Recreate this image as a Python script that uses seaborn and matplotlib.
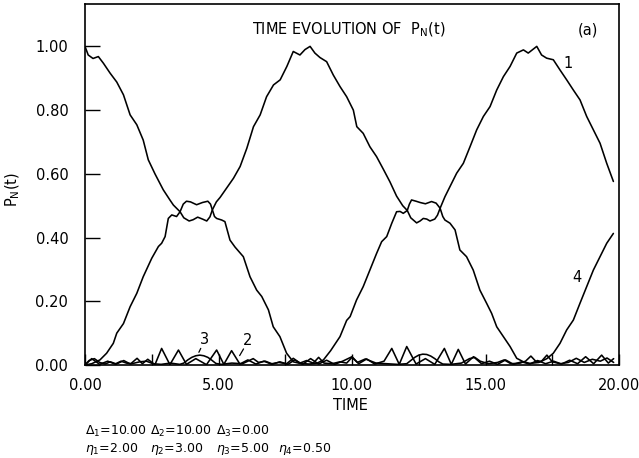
import numpy as np
import pandas as pd
import matplotlib
matplotlib.use("Agg")
import matplotlib.pyplot as plt
import seaborn as sns

# ---- populations P_N(t) of the four levels -------------------------------
t1 = [0.00, 0.12, 0.30, 0.50, 0.69, 0.94, 1.19, 1.44, 1.69, 1.94, 2.18, 2.37,
      2.62, 2.93, 3.18, 3.31, 3.56, 3.70, 3.90, 4.05, 4.22, 4.40, 4.56, 4.68,
      4.77, 4.92, 5.06, 5.31, 5.56, 5.81, 6.06, 6.31, 6.56, 6.80, 7.06, 7.31,
      7.56, 7.80, 8.05, 8.24, 8.43, 8.61, 8.80, 9.05, 9.30, 9.55, 9.80, 10.05,
      10.18, 10.42, 10.67, 10.92, 11.17, 11.42, 11.67, 11.90, 12.07, 12.20,
      12.42, 12.55, 12.67, 12.80, 12.92, 13.10, 13.20, 13.30, 13.48, 13.67,
      13.92, 14.17, 14.42, 14.67, 14.92, 15.17, 15.42, 15.67, 15.92, 16.17,
      16.42, 16.60, 16.92, 17.10, 17.29, 17.54, 17.79, 18.04, 18.29, 18.54,
      18.79, 19.04, 19.29, 19.54, 19.79]
p1 = [1.000, 0.973, 0.962, 0.968, 0.947, 0.916, 0.888, 0.848, 0.785, 0.754,
      0.706, 0.644, 0.600, 0.550, 0.518, 0.502, 0.481, 0.462, 0.452, 0.456,
      0.464, 0.458, 0.452, 0.465, 0.487, 0.512, 0.526, 0.556, 0.586, 0.623,
      0.680, 0.748, 0.785, 0.842, 0.879, 0.895, 0.937, 0.984, 0.973, 0.990,
      1.000, 0.979, 0.965, 0.952, 0.910, 0.874, 0.842, 0.800, 0.748, 0.727,
      0.685, 0.654, 0.615, 0.575, 0.530, 0.500, 0.485, 0.462, 0.446, 0.452,
      0.460, 0.458, 0.452, 0.458, 0.470, 0.492, 0.528, 0.560, 0.602, 0.633,
      0.685, 0.738, 0.780, 0.811, 0.863, 0.905, 0.937, 0.979, 0.989, 0.979,
      1.000, 0.973, 0.963, 0.958, 0.926, 0.895, 0.863, 0.832, 0.780, 0.738,
      0.696, 0.633, 0.576]

t4 = [0.00, 0.25, 0.56, 0.81, 1.06, 1.19, 1.44, 1.69, 1.94, 2.18, 2.50, 2.75,
      2.87, 3.00, 3.12, 3.25, 3.43, 3.56, 3.68, 3.80, 3.95, 4.18, 4.40, 4.60,
      4.70, 4.77, 4.85, 4.93, 5.12, 5.24, 5.43, 5.62, 5.93, 6.18, 6.43, 6.62,
      6.87, 7.05, 7.30, 7.55, 7.80, 8.05, 8.40, 8.70, 8.93, 9.20, 9.55, 9.80,
      9.93, 10.17, 10.42, 10.67, 10.92, 11.11, 11.30, 11.49, 11.67, 11.80,
      11.92, 12.07, 12.15, 12.23, 12.40, 12.55, 12.75, 12.98, 13.15, 13.30,
      13.40, 13.48, 13.67, 13.86, 14.04, 14.29, 14.54, 14.79, 15.04, 15.23,
      15.42, 15.67, 15.92, 16.17, 16.42, 16.67, 17.00, 17.30, 17.54, 17.79,
      18.04, 18.29, 18.54, 18.79, 19.04, 19.29, 19.54, 19.79]
p4 = [0.000, 0.004, 0.016, 0.037, 0.068, 0.100, 0.130, 0.183, 0.225, 0.277,
      0.335, 0.372, 0.382, 0.403, 0.460, 0.471, 0.466, 0.481, 0.505, 0.514,
      0.512, 0.503, 0.510, 0.514, 0.505, 0.487, 0.466, 0.460, 0.455, 0.450,
      0.392, 0.370, 0.340, 0.277, 0.235, 0.215, 0.173, 0.120, 0.089, 0.037,
      0.010, 0.005, 0.003, 0.006, 0.016, 0.045, 0.089, 0.140, 0.152, 0.204,
      0.246, 0.298, 0.350, 0.387, 0.403, 0.445, 0.481, 0.482, 0.476, 0.485,
      0.505, 0.518, 0.514, 0.510, 0.506, 0.513, 0.508, 0.492, 0.466, 0.455,
      0.445, 0.424, 0.361, 0.340, 0.298, 0.235, 0.194, 0.162, 0.120, 0.089,
      0.058, 0.021, 0.010, 0.005, 0.008, 0.020, 0.037, 0.068, 0.110, 0.141,
      0.194, 0.246, 0.298, 0.340, 0.382, 0.413]

t2 = [0.00, 0.25, 0.55, 0.85, 1.15, 1.45, 1.70, 1.95, 2.15, 2.35, 2.62, 2.87,
      3.18, 3.50, 3.80, 4.15, 4.55, 4.93, 5.20, 5.49, 5.80, 6.10, 6.40, 6.70,
      7.00, 7.30, 7.60, 7.85, 8.15, 8.45, 8.75, 9.05, 9.35, 9.65, 10.00, 10.25,
      10.55, 10.85, 11.20, 11.49, 11.77, 12.05, 12.40, 12.75, 13.10, 13.46,
      13.72, 13.98, 14.25, 14.55, 14.85, 15.15, 15.45, 15.75, 16.05, 16.35,
      16.65, 16.95, 17.25, 17.55, 17.85, 18.15, 18.45, 18.75, 19.05, 19.35,
      19.60, 19.80]
p2 = [0.000, 0.020, 0.002, 0.012, 0.002, 0.014, 0.003, 0.021, 0.004, 0.018,
      0.001, 0.052, 0.001, 0.047, 0.002, 0.020, 0.001, 0.047, 0.002, 0.045,
      0.003, 0.016, 0.003, 0.012, 0.002, 0.010, 0.002, 0.016, 0.002, 0.020,
      0.003, 0.015, 0.002, 0.012, 0.026, 0.004, 0.019, 0.003, 0.012, 0.052,
      0.002, 0.058, 0.003, 0.020, 0.002, 0.052, 0.002, 0.049, 0.003, 0.026,
      0.004, 0.012, 0.002, 0.016, 0.002, 0.010, 0.003, 0.014, 0.004, 0.012,
      0.003, 0.015, 0.004, 0.026, 0.004, 0.031, 0.006, 0.020]

t3 = [0.00, 0.15, 0.35, 0.55, 0.75, 0.95, 1.15, 1.35, 1.55, 1.75, 2.05, 2.30,
      2.55, 2.85, 3.20, 3.55, 3.70, 3.85, 4.00, 4.15, 4.30, 4.45, 4.60, 4.75,
      4.90, 5.10, 5.50, 5.90, 6.10, 6.30, 6.50, 6.75, 7.00, 7.25, 7.55, 7.80,
      8.05, 8.30, 8.55, 8.75, 8.95, 9.25, 9.55, 9.80, 10.00, 10.20, 10.50,
      10.90, 11.30, 11.70, 12.05, 12.20, 12.35, 12.50, 12.65, 12.80, 12.95,
      13.10, 13.25, 13.40, 13.70, 14.10, 14.40, 14.60, 14.80, 15.10, 15.45,
      15.70, 15.95, 16.30, 16.50, 16.70, 16.90, 17.10, 17.30, 17.50, 17.80,
      18.10, 18.40, 18.70, 19.00, 19.30, 19.55, 19.80]
p3 = [0.000, 0.014, 0.020, 0.008, 0.003, 0.010, 0.004, 0.012, 0.006, 0.004,
      0.010, 0.012, 0.004, 0.002, 0.006, 0.002, 0.006, 0.016, 0.024, 0.029,
      0.031, 0.029, 0.024, 0.015, 0.005, 0.002, 0.006, 0.004, 0.012, 0.020,
      0.008, 0.012, 0.004, 0.008, 0.004, 0.021, 0.006, 0.014, 0.006, 0.024,
      0.006, 0.004, 0.010, 0.006, 0.024, 0.008, 0.019, 0.006, 0.004, 0.002,
      0.004, 0.014, 0.024, 0.031, 0.034, 0.033, 0.028, 0.020, 0.010, 0.003,
      0.002, 0.006, 0.020, 0.024, 0.012, 0.004, 0.008, 0.016, 0.004, 0.006,
      0.012, 0.028, 0.010, 0.012, 0.031, 0.010, 0.004, 0.008, 0.021, 0.008,
      0.018, 0.012, 0.022, 0.008]

x_ticks = [0, 5, 10, 15, 20]
x_ticklabels = ["0.00", "5.00", "10.00", "15.00", "20.00"]
y_ticks = [0.0, 0.2, 0.4, 0.6, 0.8, 1.0]
y_ticklabels = ["0.00", "0.20", "0.40", "0.60", "0.80", "1.00"]

delta_labels = [r"$\Delta_1$=10.00", r"$\Delta_2$=10.00", r"$\Delta_3$=0.00"]
eta_labels = [r"$\eta_1$=2.00", r"$\eta_2$=3.00", r"$\eta_3$=5.00", r"$\eta_4$=0.50"]

# ---- figure -----------------------------------------------------------------
sns.set_theme(style="white")
plt.rcParams["font.family"] = ["DejaVu Sans"]
plt.rcParams["mathtext.fontset"] = "dejavusans"
plt.rcParams["text.color"] = "black"
plt.rcParams["xtick.color"] = "black"
plt.rcParams["ytick.color"] = "black"

fig = plt.figure(figsize=(6.39, 4.58), dpi=100)
ax = fig.add_axes([85 / 639, 1 - 365 / 458, 534 / 639, 361 / 458])

curves = [(t1, p1), (t4, p4), (t2, p2), (t3, p3)]
for tt, pp in curves:
    df = pd.DataFrame({"time": tt, "pop": pp})
    sns.lineplot(data=df, x="time", y="pop", color="black", linewidth=1.15,
                 estimator=None, sort=False, ax=ax)

ax.set_xlim(0, 20)
ax.set_ylim(0, 1.133)
ax.set_xticks(x_ticks)
ax.set_xticklabels(x_ticklabels, fontsize=10.5, color="black")
ax.set_xticks([2.5, 7.5, 12.5, 17.5], minor=True)
ax.set_yticks(y_ticks)
ax.set_yticklabels(y_ticklabels, fontsize=10.5, color="black")
ax.tick_params(axis="both", which="both", direction="in", color="black",
               width=1.0, top=False, right=False, bottom=True, left=True)
ax.tick_params(axis="y", which="major", length=11, pad=12)
ax.tick_params(axis="x", which="major", length=8, pad=9)
ax.tick_params(axis="x", which="minor", length=8)
for s in ax.spines.values():
    s.set_color("black")
    s.set_linewidth(1.2)
    s.set_visible(True)
ax.set_xlabel("")
ax.set_ylabel("")

# title and panel tag
ax.text(0.494, 0.928, r"TIME EVOLUTION OF  $\mathregular{P_N(t)}$",
        transform=ax.transAxes, ha="center", va="center", fontsize=10.5,
        color="black")
ax.text(0.942, 0.928, "(a)", transform=ax.transAxes, ha="center",
        va="center", fontsize=10.5, color="black")

# curve labels
ax.text(18.09, 0.945, "1", ha="center", va="center", fontsize=10.5)
ax.text(18.43, 0.275, "4", ha="center", va="center", fontsize=10.5)
ax.text(4.46, 0.080, "3", ha="center", va="center", fontsize=10.5)
ax.text(6.10, 0.078, "2", ha="center", va="center", fontsize=10.5)
ax.annotate("", xy=(4.22, 0.032), xytext=(4.38, 0.060),
            arrowprops=dict(arrowstyle="-", color="black", lw=0.9))
ax.annotate("", xy=(5.74, 0.022), xytext=(5.99, 0.058),
            arrowprops=dict(arrowstyle="-", color="black", lw=0.9))

# axis titles
fig.text(350 / 639, 1 - 406 / 458, "TIME", ha="center", va="center",
         fontsize=10.5)
fig.text(13 / 639, 1 - 190 / 458, r"$\mathregular{P_N(t)}$", ha="center",
         va="center", rotation=90, fontsize=10.5)

# parameter lines
for lab, x in zip(delta_labels, [85, 150, 216]):
    fig.text(x / 639, 1 - 431 / 458, lab, ha="left", va="center", fontsize=9)
for lab, x in zip(eta_labels, [85, 150, 216, 278]):
    fig.text(x / 639, 1 - 449 / 458, lab, ha="left", va="center", fontsize=9)

fig.savefig("out.png", dpi=100, facecolor="white")
